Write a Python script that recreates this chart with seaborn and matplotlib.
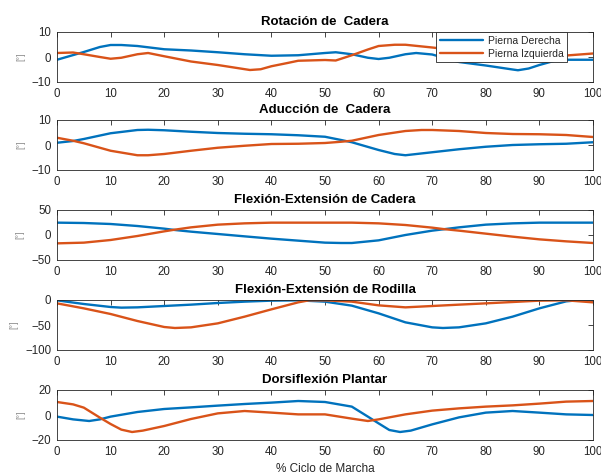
import matplotlib
matplotlib.use("Agg")
import matplotlib.pyplot as plt
import seaborn as sns
import pandas as pd

# Joint angles over the gait cycle (degrees), right and left leg
rot_der_x = [0, 5, 8, 10, 12, 15, 20, 25, 30, 35, 40, 45, 50, 52, 55, 58, 60, 62, 65, 67, 70, 75, 80, 85, 86, 88, 90, 93, 95, 100]
rot_der_y = [-1.1, 2.0, 4.0, 4.8, 4.8, 4.4, 3.1, 2.6, 1.9, 1.1, 0.5, 0.7, 1.6, 1.9, 1.1, -0.3, -0.8, -0.3, 1.1, 1.6, 1.0, -2.0, -3.4, -5.0, -5.3, -4.6, -3.2, -1.4, -1.1, -1.1]
rot_izq_x = [0, 3, 5, 8, 10, 12, 15, 17, 20, 25, 30, 33, 36, 38, 40, 43, 45, 50, 52, 55, 58, 60, 63, 65, 70, 72, 75, 80, 85, 90, 95, 100]
rot_izq_y = [1.6, 1.8, 1.1, 0.0, -0.7, -0.3, 1.1, 1.6, 0.3, -1.8, -3.2, -4.2, -5.2, -4.9, -3.7, -2.4, -1.5, -1.2, -1.4, 0.7, 3.0, 4.4, 4.9, 4.9, 3.8, 3.3, 2.5, 1.5, 0.7, 0.3, 0.6, 1.4]

add_der_x = [0, 3, 5, 10, 15, 17, 20, 25, 30, 35, 40, 45, 50, 53, 55, 60, 63, 65, 70, 75, 80, 85, 90, 95, 100]
add_der_y = [0.9, 1.6, 2.4, 4.7, 6.0, 6.1, 5.9, 5.3, 4.8, 4.5, 4.3, 3.9, 3.3, 2.0, 1.1, -2.0, -3.6, -4.1, -2.9, -1.7, -0.7, 0.0, 0.3, 0.5, 1.1]
add_izq_x = [0, 3, 5, 10, 15, 17, 20, 25, 30, 35, 40, 45, 50, 53, 55, 60, 65, 68, 70, 75, 80, 85, 90, 95, 100]
add_izq_y = [2.9, 1.7, 0.7, -2.3, -4.1, -4.1, -3.6, -2.3, -1.1, -0.3, 0.4, 0.5, 0.8, 1.3, 1.7, 4.0, 5.6, 6.0, 6.0, 5.6, 4.8, 4.4, 4.3, 4.0, 3.2]

cad_der_x = [0, 5, 10, 15, 20, 22, 25, 30, 35, 40, 45, 50, 53, 55, 60, 65, 70, 72, 75, 80, 85, 90, 95, 100]
cad_der_y = [24.7, 24.0, 22.0, 18.0, 12.7, 10.0, 6.7, 2.0, -2.7, -7.3, -11.3, -15.3, -16.0, -16.0, -10.7, 0.0, 8.7, 11.3, 15.3, 20.7, 23.3, 24.7, 24.7, 24.7]
cad_izq_x = [0, 5, 10, 15, 20, 22, 25, 30, 35, 40, 45, 50, 55, 60, 65, 70, 72, 75, 80, 85, 90, 95, 100]
cad_izq_y = [-16.7, -15.3, -10.0, -2.0, 7.3, 10.7, 15.3, 20.7, 23.3, 24.7, 24.7, 24.7, 24.7, 23.3, 20.0, 14.7, 12.0, 8.7, 2.7, -3.3, -8.7, -12.7, -16.0]

rod_der_x = [0, 5, 10, 12, 15, 20, 25, 30, 35, 40, 45, 50, 55, 60, 65, 70, 72, 75, 80, 85, 90, 95, 97, 100]
rod_der_y = [-0.7, -8.0, -14.0, -15.3, -14.7, -12.0, -9.3, -6.0, -3.3, -1.3, -0.7, -3.3, -11.3, -26.7, -44.7, -54.7, -56.0, -54.7, -46.7, -33.3, -16.7, -2.7, -0.7, -2.0]
rod_izq_x = [0, 5, 10, 15, 20, 22, 25, 30, 35, 40, 45, 47, 50, 55, 60, 65, 70, 75, 80, 85, 90, 95, 100]
rod_izq_y = [-6.7, -16.7, -28.0, -42.0, -54.0, -56.0, -54.7, -46.7, -33.3, -18.7, -4.7, -0.7, -0.7, -3.3, -10.7, -14.7, -12.0, -9.3, -6.7, -4.0, -1.3, -0.7, -4.7]

dor_der_x = [0, 3, 6, 8, 10, 15, 20, 25, 30, 35, 40, 45, 50, 55, 58, 60, 62, 64, 66, 70, 75, 80, 85, 90, 95, 100]
dor_der_y = [-1.3, -3.5, -4.8, -3.5, -1.3, 2.4, 4.8, 6.1, 7.5, 8.8, 9.9, 11.2, 10.4, 6.7, -1.3, -6.7, -12.0, -13.6, -12.5, -7.5, -1.9, 1.9, 3.2, 1.9, 0.5, 0.0]
dor_izq_x = [0, 3, 5, 8, 10, 12, 14, 16, 20, 25, 30, 35, 40, 45, 50, 55, 58, 60, 65, 70, 75, 80, 85, 90, 95, 100]
dor_izq_y = [10.4, 8.5, 5.9, -2.1, -7.2, -11.7, -13.6, -12.5, -8.8, -3.2, 1.3, 3.2, 1.9, 0.5, 0.5, -2.9, -4.8, -3.5, 0.5, 3.5, 5.3, 6.7, 7.7, 9.1, 10.7, 11.2]

titles = ["Rotación de  Cadera", "Aducción de  Cadera", "Flexión-Extensión de Cadera",
          "Flexión-Extensión de Rodilla", "Dorsiflexión Plantar"]
ylims = [(-10, 10), (-10, 10), (-50, 50), (-100, 0), (-20, 20)]
yticks = [[-10, 0, 10], [-10, 0, 10], [-50, 0, 50], [-100, -50, 0], [-20, 0, 20]]
xticks = list(range(0, 101, 10))
leg_labels = ["Pierna Derecha", "Pierna Izquierda"]

series = [
    ((rot_der_x, rot_der_y), (rot_izq_x, rot_izq_y)),
    ((add_der_x, add_der_y), (add_izq_x, add_izq_y)),
    ((cad_der_x, cad_der_y), (cad_izq_x, cad_izq_y)),
    ((rod_der_x, rod_der_y), (rod_izq_x, rod_izq_y)),
    ((dor_der_x, dor_der_y), (dor_izq_x, dor_izq_y)),
]

sns.set_style("white")
plt.rcParams["font.family"] = ["Liberation Sans", "DejaVu Sans"]
plt.rcParams.update({
    "xtick.direction": "in", "ytick.direction": "in",
    "xtick.top": True, "ytick.right": True,
    "xtick.major.size": 3.5, "ytick.major.size": 3.5,
    "xtick.major.width": 0.6, "ytick.major.width": 0.6,
    "xtick.color": "#262626", "ytick.color": "#262626",
    "xtick.labelcolor": "#262626", "ytick.labelcolor": "#262626",
    "xtick.labelsize": 8.3, "ytick.labelsize": 8.3,
    "axes.edgecolor": "#262626", "axes.linewidth": 0.6,
})

palette = {leg_labels[0]: "#0072BD", leg_labels[1]: "#D95319"}

fig = plt.figure(figsize=(6.01, 4.72), dpi=100)
W, H = 601, 472
left_px, right_px = 57, 593
tops_px = [32, 120, 210, 300, 390]
height_px = 50

for i in range(5):
    top = tops_px[i]
    ax = fig.add_axes([left_px / W, 1 - (top + height_px) / H,
                       (right_px - left_px) / W, height_px / H])
    (dx, dy), (ix, iy) = series[i]
    df = pd.concat([
        pd.DataFrame({"x": dx, "y": dy, "Pierna": leg_labels[0]}),
        pd.DataFrame({"x": ix, "y": iy, "Pierna": leg_labels[1]}),
    ])
    sns.lineplot(data=df, x="x", y="y", hue="Pierna", palette=palette,
                 linewidth=1.7, ax=ax, legend=(i == 0), sort=True)
    ax.set_xlim(0, 100)
    ax.set_ylim(*ylims[i])
    ax.set_xticks(xticks)
    ax.set_yticks(yticks[i])
    ax.tick_params(axis="x", pad=4)
    ax.tick_params(axis="y", pad=4)
    ax.set_title(titles[i], fontsize=9.5, fontweight="bold", pad=5, color="black")
    ax.set_xlabel("")
    ax.set_ylabel("[°]", fontsize=6.5, color="#8c8c8c", labelpad=5)
    for s in ax.spines.values():
        s.set_visible(True)
    if i == 0:
        leg = ax.legend(loc="upper right", bbox_to_anchor=((567 - left_px) / (right_px - left_px), 1.0),
                        borderaxespad=0, fontsize=7.5, handlelength=4.2, handletextpad=0.4,
                        labelspacing=0.3, borderpad=0.35, fancybox=False, framealpha=1,
                        edgecolor="#262626")
        leg.get_frame().set_linewidth(0.6)
        for line in leg.get_lines():
            line.set_linewidth(1.7)
    if i == 4:
        ax.set_xlabel("% Ciclo de Marcha", fontsize=8.5, color="#262626", labelpad=4)

fig.savefig("out.png", dpi=100)
